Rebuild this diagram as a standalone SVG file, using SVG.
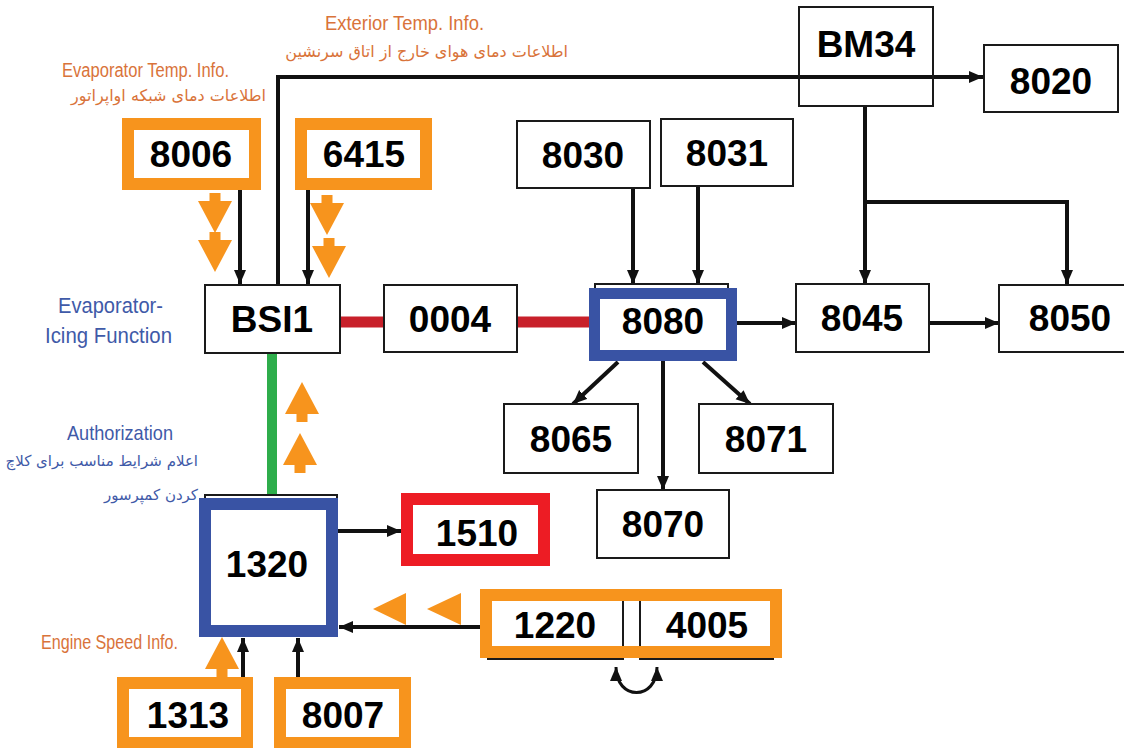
<svg xmlns="http://www.w3.org/2000/svg" width="1124" height="748" viewBox="0 0 1124 748">
<style>
.box{fill:#fff;stroke:#1a1a1a;stroke-width:2}
.num{font-family:"Liberation Sans",Arial,sans-serif;font-weight:bold;font-size:37px;fill:#000;text-anchor:middle}
.of{fill:none;stroke:#F7941D;stroke-width:12}
.bf{fill:none;stroke:#3953A4;stroke-width:11}
.rf{fill:none;stroke:#ED1C24;stroke-width:12}
.ln{fill:none;stroke:#111;stroke-width:4}
.lbo{font-family:"Liberation Sans Narrow","Liberation Sans",Arial,sans-serif;fill:#D9733A}
.lbb{font-family:"Liberation Sans Narrow","Liberation Sans",Arial,sans-serif;fill:#3F5AA8}
.fa{font-family:"DejaVu Sans","Noto Sans",sans-serif;text-anchor:end}
.oa{fill:#F7941D}
</style>
<defs>
<marker id="ah" markerUnits="userSpaceOnUse" markerWidth="16" markerHeight="14" refX="14" refY="6" orient="auto-start-reverse">
<path d="M0,0 L14,6 L0,12 z" fill="#111"/>
</marker>
<path id="oad" d="M-5.5,0 H5.5 V8 H17 L0,40 L-17,8 H-5.5 Z"/>
</defs>

<!-- labels -->
<g id="labels">
<text class="lbo" x="325" y="30" font-size="21" textLength="159" lengthAdjust="spacingAndGlyphs">Exterior Temp. Info.</text>
<text class="lbo fa" x="568" y="57" font-size="16">اطلاعات دمای هوای خارج از اتاق سرنشین</text>
<text class="lbo" x="62" y="77" font-size="20" textLength="167" lengthAdjust="spacingAndGlyphs">Evaporator Temp. Info.</text>
<text class="lbo fa" x="266" y="101" font-size="16">اطلاعات دمای شبکه اواپراتور</text>
<text class="lbb" x="58" y="313" font-size="22" textLength="105" lengthAdjust="spacingAndGlyphs">Evaporator-</text>
<text class="lbb" x="45" y="343" font-size="22" textLength="127" lengthAdjust="spacingAndGlyphs">Icing Function</text>
<text class="lbb" x="67" y="440" font-size="21" textLength="106" lengthAdjust="spacingAndGlyphs">Authorization</text>
<text class="lbb fa" x="198" y="466" font-size="15">اعلام شرایط مناسب برای کلاچ</text>
<text class="lbb fa" x="198" y="500" font-size="15">کردن کمپرسور</text>
<text class="lbo" x="41" y="649" font-size="20" textLength="137" lengthAdjust="spacingAndGlyphs">Engine Speed Info.</text>
</g>

<!-- connectors -->
<g id="connectors">
<line x1="340" y1="322" x2="384" y2="322" stroke="#C8202A" stroke-width="11"/>
<line x1="517" y1="322" x2="592" y2="322" stroke="#C8202A" stroke-width="11"/>
<line x1="272" y1="353" x2="272" y2="497" stroke="#2EAD4B" stroke-width="10"/>
<polyline class="ln" points="278,284 278,77 983,77" marker-end="url(#ah)"/>
<line class="ln" x1="240" y1="190" x2="240" y2="284" marker-end="url(#ah)"/>
<line class="ln" x1="308" y1="190" x2="308" y2="284" marker-end="url(#ah)"/>
<line class="ln" x1="633" y1="188" x2="633" y2="284" marker-end="url(#ah)"/>
<line class="ln" x1="698" y1="186" x2="698" y2="284" marker-end="url(#ah)"/>
<line class="ln" x1="865" y1="106" x2="865" y2="284" marker-end="url(#ah)"/>
<polyline class="ln" points="865,202 1067,202 1067,284" marker-end="url(#ah)"/>
<line class="ln" x1="737" y1="323" x2="796" y2="323" marker-end="url(#ah)"/>
<line class="ln" x1="929" y1="323" x2="999" y2="323" marker-end="url(#ah)"/>
<line class="ln" x1="618" y1="362" x2="573" y2="404" marker-end="url(#ah)"/>
<line class="ln" x1="703" y1="362" x2="750" y2="404" marker-end="url(#ah)"/>
<line class="ln" x1="663" y1="361" x2="663" y2="490" marker-end="url(#ah)"/>
<line class="ln" x1="338" y1="531" x2="401" y2="531" marker-end="url(#ah)"/>
<line class="ln" x1="482" y1="627" x2="339" y2="627" marker-end="url(#ah)"/>
<line class="ln" x1="243" y1="677" x2="243" y2="638" marker-end="url(#ah)"/>
<line class="ln" x1="298" y1="677" x2="298" y2="638" marker-end="url(#ah)"/>
<path d="M616,667 C616,701 657,701 657,667" fill="none" stroke="#111" stroke-width="3" marker-start="url(#ah)" marker-end="url(#ah)"/>
</g>

<!-- orange flow arrows -->
<g id="flow-arrows" class="oa">
<use href="#oad" x="215" y="193"/>
<use href="#oad" x="215" y="232"/>
<use href="#oad" x="327" y="195"/>
<use href="#oad" x="329" y="238"/>
<use href="#oad" transform="translate(302,422) rotate(180)"/>
<use href="#oad" transform="translate(300,473) rotate(180)"/>
<use href="#oad" transform="translate(222,677) rotate(180)"/>
<polygon points="373,609 406,593 406,625"/>
<polygon points="427,609 461,593 461,625"/>
</g>

<!-- nodes -->
<g id="node-BM34"><rect class="box" x="799" y="7" width="134" height="99" fill-opacity="0"/><text class="num" x="866" y="57">BM34</text></g>
<g id="node-8020"><rect class="box" x="984" y="45" width="134" height="67"/><text class="num" x="1051" y="94">8020</text></g>
<g id="node-8006"><rect class="box" x="128" y="124" width="127" height="60"/><rect class="of" x="128" y="124" width="127" height="60"/><text class="num" x="191" y="167">8006</text></g>
<g id="node-6415"><rect class="box" x="301" y="124" width="125" height="60"/><rect class="of" x="301" y="124" width="125" height="60"/><text class="num" x="364" y="167">6415</text></g>
<g id="node-8030"><rect class="box" x="517" y="121" width="133" height="67"/><text class="num" x="583" y="168">8030</text></g>
<g id="node-8031"><rect class="box" x="661" y="119" width="132" height="67"/><text class="num" x="727" y="166">8031</text></g>
<g id="node-BSI1"><rect class="box" x="205" y="285" width="135" height="68"/><text class="num" x="272" y="332">BSI1</text></g>
<g id="node-0004"><rect class="box" x="384" y="285" width="133" height="67"/><text class="num" x="450" y="332">0004</text></g>
<g id="node-8080"><rect class="box" x="595" y="284" width="133" height="68"/><rect class="bf" x="594.5" y="293.5" width="137" height="62" fill="#fff"/><text class="num" x="663" y="334">8080</text></g>
<g id="node-8045"><rect class="box" x="796" y="284" width="133" height="68"/><text class="num" x="862" y="331">8045</text></g>
<g id="node-8050"><rect class="box" x="999" y="285" width="142" height="67"/><text class="num" x="1070" y="331">8050</text></g>
<g id="node-8065"><rect class="box" x="504" y="404" width="134" height="69"/><text class="num" x="571" y="452">8065</text></g>
<g id="node-8071"><rect class="box" x="699" y="404" width="134" height="69"/><text class="num" x="766" y="452">8071</text></g>
<g id="node-8070"><rect class="box" x="597" y="490" width="132" height="68"/><text class="num" x="663" y="537">8070</text></g>
<g id="node-1320"><rect class="box" x="205" y="495" width="132" height="139"/><rect x="205" y="504" width="127" height="127" fill="#fff" stroke="#3953A4" stroke-width="12"/><text class="num" x="267" y="577" font-size="40">1320</text></g>
<g id="node-1510"><rect x="407" y="499" width="137" height="61" fill="#fff" stroke="#ED1C24" stroke-width="12"/><text class="num" x="477" y="546">1510</text></g>
<g id="node-1220-4005">
<rect class="box" x="488" y="596" width="135" height="63"/>
<rect class="box" x="640" y="596" width="133" height="63"/>
<rect class="of" x="486" y="595" width="290" height="57"/>
<text class="num" x="555" y="638">1220</text>
<text class="num" x="707" y="638">4005</text>
</g>
<g id="node-1313"><rect x="123" y="683" width="124" height="60" fill="#fff" stroke="#F7941D" stroke-width="12"/><text class="num" x="188" y="728">1313</text></g>
<g id="node-8007"><rect x="280" y="683" width="125" height="60" fill="#fff" stroke="#F7941D" stroke-width="12"/><text class="num" x="343" y="728">8007</text></g>
</svg>
